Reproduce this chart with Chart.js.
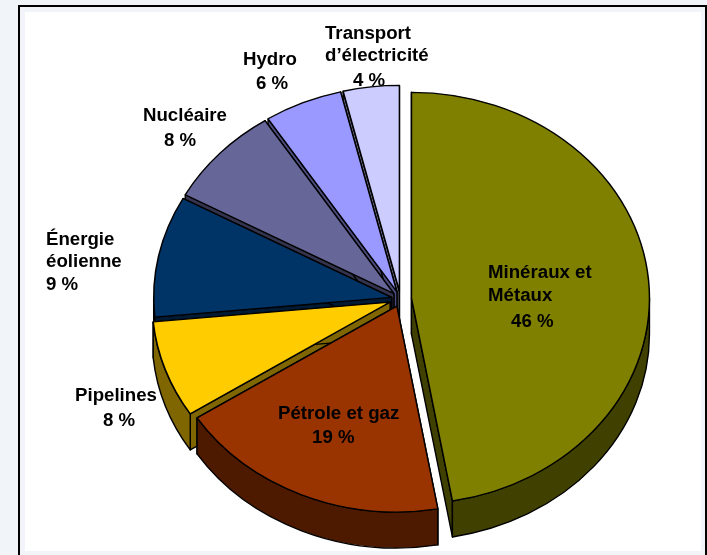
<!DOCTYPE html>
<html>
<head>
<meta charset="utf-8">
<style>
  html, body { margin: 0; padding: 0; background: #f1f5f9; overflow: hidden; }
  #frame { position: absolute; left: 18px; top: 5px; width: 685px; height: 600px; border: 2.5px solid #000; box-sizing: content-box; }
  #white { position: absolute; left: 25px; top: 12px; width: 676px; height: 539px; background: #fff; }
  #pie { position: absolute; left: 0; top: 0; }
</style>
</head>
<body>
<div id="frame"></div>
<div id="white"></div>
<canvas id="pie" width="707" height="555"></canvas>
<script src="https://cdn.jsdelivr.net/npm/chart.js@4"></script>
<script>
const categories = ['Minéraux et Métaux', 'Pétrole et gaz', 'Pipelines', 'Énergie éolienne', 'Nucléaire', 'Hydro', 'Transport d’électricité'];
// shares measured from the slice angles in the picture
const sliceShares = [47.2, 18.6, 7.6, 9.5, 7.9, 5.3, 3.8];
// the percentages as printed on the labels
const printedPercents = [46, 19, 8, 9, 8, 6, 4];
const topColors = ['#808000', '#993300', '#ffcc00', '#003366', '#666699', '#9999ff', '#ccccff'];
const sideColors = ['#404000', '#4d1a00', '#806600', '#001a33', '#33334d', '#4d4d80', '#666680'];

const labelLines = [
    ['Minéraux et', 'Métaux'], ['Pétrole et gaz'], ['Pipelines'], ['Énergie', 'éolienne'],
    ['Nucléaire'], ['Hydro'], ['Transport', 'd’électricité']
];
// x, baseline for each line, the percentage is the last one
const labelSpots = [
    [[488, 278], [488, 301], [511, 327]],
    [[278, 419], [312, 443]],
    [[75, 401], [103, 426]],
    [[46, 245], [46, 267], [46, 290]],
    [[143, 121], [164, 146]],
    [[243, 65], [256, 89]],
    [[325, 39], [325, 61], [353, 86]]
];

const squash = 0.865;
const depth = 36;
const sliceShift = [11, 9, 11, 9, 9, 9, 9];

function shiftedCentre(arc, i) {
    const mid = (arc.startAngle + arc.endAngle) / 2;
    return {
        x: arc.x + Math.cos(mid) * sliceShift[i],
        y: arc.y + Math.sin(mid) * sliceShift[i] * squash
    };
}

function rimPoint(c, r, a) {
    return { x: c.x + Math.cos(a) * r, y: c.y + Math.sin(a) * r * squash };
}

function drawCutWall(ctx, c, r, a) {
    const p = rimPoint(c, r, a);
    ctx.beginPath();
    ctx.moveTo(c.x, c.y);
    ctx.lineTo(p.x, p.y);
    ctx.lineTo(p.x, p.y + depth);
    ctx.lineTo(c.x, c.y + depth);
    ctx.closePath();
    ctx.fill();
    ctx.stroke();
}

function drawRimWall(ctx, c, r, a1, a2) {
    if (a2 <= a1) return;
    ctx.beginPath();
    ctx.ellipse(c.x, c.y, r, r * squash, 0, a1, a2);
    ctx.ellipse(c.x, c.y + depth, r, r * squash, 0, a2, a1, true);
    ctx.closePath();
    ctx.fill();
    ctx.stroke();
}

const pie3d = {
    id: 'pie3d',
    beforeDatasetDraw(chart, args) {
        const ctx = chart.ctx;
        const arcs = chart.getDatasetMeta(args.index).data;

        // walls first, back slices before the front ones
        const order = arcs.map((a, i) => i).sort((p, q) => {
            const mp = (arcs[p].startAngle + arcs[p].endAngle) / 2;
            const mq = (arcs[q].startAngle + arcs[q].endAngle) / 2;
            return Math.sin(mp) - Math.sin(mq);
        });
        ctx.save();
        ctx.lineWidth = 1.4;
        ctx.strokeStyle = '#000';
        ctx.lineJoin = 'round';
        order.forEach(i => {
            const arc = arcs[i];
            const c = shiftedCentre(arc, i);
            ctx.fillStyle = sideColors[i];
            drawCutWall(ctx, c, arc.outerRadius, arc.startAngle);
            drawCutWall(ctx, c, arc.outerRadius, arc.endAngle);
            drawRimWall(ctx, c, arc.outerRadius, Math.max(arc.startAngle, 0), Math.min(arc.endAngle, Math.PI));
        });
        ctx.restore();

        // top faces are the library's own arcs, flattened
        arcs.forEach((arc, i) => {
            const c = shiftedCentre(arc, i);
            ctx.save();
            ctx.translate(c.x, c.y);
            ctx.scale(1, squash);
            ctx.translate(-arc.x, -arc.y);
            arc.draw(ctx);
            ctx.restore();
        });
        return false;
    },
    afterDatasetsDraw(chart) {
        const ctx = chart.ctx;
        ctx.save();
        ctx.font = 'bold 18.67px "Liberation Sans", Arial, sans-serif';
        ctx.fillStyle = '#000';
        ctx.textAlign = 'left';
        ctx.textBaseline = 'alphabetic';
        labelLines.forEach((lines, i) => {
            const texts = lines.concat(printedPercents[i] + ' %');
            texts.forEach((t, k) => ctx.fillText(t, labelSpots[i][k][0], labelSpots[i][k][1]));
        });
        ctx.restore();
    }
};

new Chart(document.getElementById('pie'), {
    type: 'pie',
    data: {
        labels: categories,
        datasets: [{
            data: sliceShares,
            backgroundColor: topColors,
            borderColor: '#000',
            borderWidth: 1.5,
            hoverOffset: 0
        }]
    },
    options: {
        responsive: false,
        animation: false,
        radius: 238,
        layout: { padding: { left: 94, top: 43 } },
        plugins: { legend: { display: false }, tooltip: { enabled: false } }
    },
    plugins: [pie3d]
});
</script>
</body>
</html>
